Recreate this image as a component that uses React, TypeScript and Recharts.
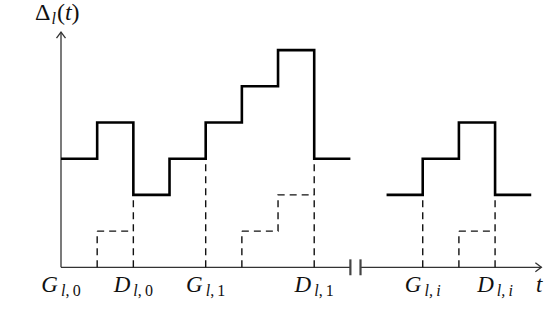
import { LineChart, Line, XAxis, YAxis, ReferenceLine, ReferenceDot } from 'recharts';

// age process, solid step segments (value held until next t)
const ageBeforeBreak = [
  { t: 0, v: 3 },
  { t: 1, v: 4 },
  { t: 2, v: 2 },
  { t: 3, v: 3 },
  { t: 4, v: 4 },
  { t: 5, v: 5 },
  { t: 6, v: 6 },
  { t: 7, v: 3 },
  { t: 8, v: 3 },
];
const ageAfterBreak = [
  { t: 9, v: 2 },
  { t: 10, v: 3 },
  { t: 11, v: 4 },
  { t: 12, v: 2 },
  { t: 13, v: 2 },
];

// dashed steps of the queued packets
const dashedSteps = [
  [{ t: 1, v: 1 }, { t: 2, v: 1 }],
  [{ t: 5, v: 1 }, { t: 6, v: 2 }, { t: 7, v: 2 }],
  [{ t: 11, v: 1 }, { t: 12, v: 1 }],
];

// dashed verticals from the axis up to the given level
const dashedGuides = [
  { t: 1, top: 1 },
  { t: 2, top: 2 },
  { t: 4, top: 3 },
  { t: 5, top: 1 },
  { t: 7, top: 3 },
  { t: 10, top: 2 },
  { t: 11, top: 1 },
  { t: 12, top: 2 },
];

const tickLabels = [
  { t: 0, main: 'G', sub: 'l', idx: '0' },
  { t: 2, main: 'D', sub: 'l', idx: '0' },
  { t: 4, main: 'G', sub: 'l', idx: '1' },
  { t: 7, main: 'D', sub: 'l', idx: '1' },
  { t: 10, main: 'G', sub: 'l', idx: 'i' },
  { t: 12, main: 'D', sub: 'l', idx: 'i' },
  { t: 13.22, main: 't', sub: '', idx: '' },
];

const breakAt = 8;
const breakEnd = 8.28;
const xEnd = 13.28;
const yEnd = 6.5;

const FONT = '"Liberation Serif", "DejaVu Serif", serif';
const AXIS = '#333';

const TimeTick = (props: any) => {
  const { x, y, payload } = props;
  const lab = tickLabels.find((l) => Math.abs(l.t - payload.value) < 0.01);
  if (!lab) return null;
  return (
    <text x={x} y={y + 25} textAnchor="middle" fontFamily={FONT} fontSize={23} fill="#111">
      <tspan fontStyle="italic">{lab.main}</tspan>
      {lab.sub && (
        <tspan fontStyle="italic" fontSize={16} dx={3} dy={4}>
          {lab.sub}
        </tspan>
      )}
      {lab.idx && (
        <tspan fontSize={16} fontStyle={lab.idx === 'i' ? 'italic' : 'normal'}>
          {',\u2009' + lab.idx}
        </tspan>
      )}
    </text>
  );
};

const UpArrow = (p: any) => (
  <g>
    <path d={`M${p.cx - 4.5},${p.cy + 6} L${p.cx},${p.cy} L${p.cx + 4.5},${p.cy + 6}`} fill="none" stroke={AXIS} strokeWidth={1.3} />
    <text x={p.cx - 26} y={p.cy - 12.5} fontFamily={FONT} fontSize={24} fill="#111">
      <tspan>Δ</tspan>
      <tspan fontStyle="italic" fontSize={16} dx={1} dy={4}>l</tspan>
      <tspan dy={-4} dx={1}>(</tspan>
      <tspan fontStyle="italic">t</tspan>
      <tspan>)</tspan>
    </text>
  </g>
);

const RightArrow = (p: any) => (
  <path d={`M${p.cx - 6},${p.cy - 4.5} L${p.cx},${p.cy} L${p.cx - 6},${p.cy + 4.5}`} fill="none" stroke={AXIS} strokeWidth={1.3} />
);

export default function App() {
  return (
    <div style={{ position: 'absolute', left: 0, top: 0, width: 546, height: 332, overflow: 'hidden', background: '#fff' }}>
      <LineChart width={546} height={332} margin={{ top: 28.4, right: 3.9, bottom: 34.7, left: 61 }}>
        <XAxis
          dataKey="t"
          type="number"
          domain={[0, 13.3]}
          allowDataOverflow
          ticks={tickLabels.map((l) => l.t)}
          interval={0}
          axisLine={false}
          tickLine={false}
          tickSize={0}
          tickMargin={0}
          height={30}
          tick={<TimeTick />}
        />
        <YAxis dataKey="v" type="number" domain={[0, 6.6]} allowDataOverflow hide width={0} />

        {/* axes */}
        <ReferenceLine segment={[{ x: 0, y: 0 }, { x: 0, y: yEnd }]} stroke={AXIS} strokeWidth={1.3} ifOverflow="visible" />
        <ReferenceLine segment={[{ x: 0, y: 0 }, { x: breakAt, y: 0 }]} stroke={AXIS} strokeWidth={1.3} ifOverflow="visible" />
        <ReferenceLine segment={[{ x: breakEnd, y: 0 }, { x: xEnd, y: 0 }]} stroke={AXIS} strokeWidth={1.3} ifOverflow="visible" />
        <ReferenceLine segment={[{ x: breakAt, y: -0.22 }, { x: breakAt, y: 0.22 }]} stroke="#444" strokeWidth={2.2} ifOverflow="visible" />
        <ReferenceLine segment={[{ x: breakEnd, y: -0.22 }, { x: breakEnd, y: 0.22 }]} stroke="#444" strokeWidth={2.2} ifOverflow="visible" />
        <ReferenceDot x={0} y={yEnd} r={0} ifOverflow="visible" shape={<UpArrow />} />
        <ReferenceDot x={xEnd} y={0} r={0} ifOverflow="visible" shape={<RightArrow />} />

        {/* dashed guides */}
        {dashedGuides.map((g) => (
          <ReferenceLine
            key={'g' + g.t}
            segment={[{ x: g.t, y: 0 }, { x: g.t, y: g.top }]}
            stroke="#111"
            strokeWidth={1.4}
            strokeDasharray="7 5"
            ifOverflow="visible"
          />
        ))}
        {dashedSteps.map((d, i) => (
          <Line
            key={'d' + i}
            data={d}
            dataKey="v"
            type="stepAfter"
            stroke="#111"
            strokeWidth={1.4}
            strokeDasharray="7 5"
            dot={false}
            activeDot={false}
            isAnimationActive={false}
          />
        ))}

        <Line data={ageBeforeBreak} dataKey="v" type="stepAfter" stroke="#000" strokeWidth={2.6} dot={false} activeDot={false} isAnimationActive={false} />
        <Line data={ageAfterBreak} dataKey="v" type="stepAfter" stroke="#000" strokeWidth={2.6} dot={false} activeDot={false} isAnimationActive={false} />
      </LineChart>
      <div
        style={{
          position: 'absolute',
          left: 0,
          top: 335,
          fontFamily: FONT,
          fontSize: 22,
          lineHeight: '22px',
          color: '#555',
          whiteSpace: 'nowrap',
        }}
      >
        Fig. 2. Evolution of the age Δ<i>l</i>(<i>t</i>) in discrete time
      </div>
    </div>
  );
}
